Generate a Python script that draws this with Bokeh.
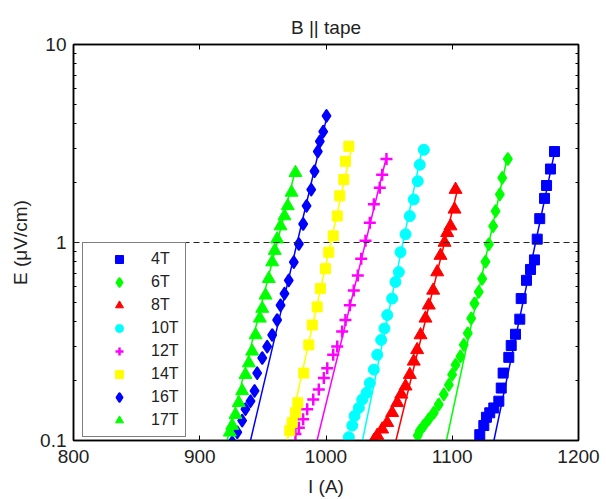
from bokeh.plotting import figure
from bokeh.models import (Range1d, FixedTicker, LinearAxis, LogAxis, Span, Legend,
                          LegendItem, CustomJSTickFormatter)
from bokeh.embed import file_html
from bokeh.resources import INLINE
import numpy as np

# ---------------- data ----------------
series_names = ["4T", "6T", "8T", "10T", "12T", "14T", "16T", "17T"]
series_colors = ["#0000FF", "#00FF00", "#FF0000", "#00FFFF", "#FF00FF", "#FFFF00", "#0000FF", "#00FF00"]
series_markers = ["square", "diamond", "triangle", "circle", "cross", "square", "diamond", "triangle"]

i_4t = [1181.0, 1177.8, 1174.7, 1173.1, 1169.3, 1167.3, 1165.1, 1162.0, 1158.8, 1154.6, 1153.5,
        1150.1, 1146.7, 1144.8, 1140.3, 1138.8, 1136.9, 1132.9, 1129.7, 1127.1, 1125.0, 1121.8]
e_4t = [2.88, 2.35, 1.94, 1.67, 1.32, 1.04, 0.817, 0.731, 0.644, 0.521, 0.410,
        0.344, 0.302, 0.263, 0.219, 0.184, 0.158, 0.146, 0.138, 0.131, 0.119, 0.107]

i_6t = [1144.0, 1139.6, 1137.7, 1134.3, 1132.4, 1129.0, 1126.3, 1123.7, 1121.0, 1117.6, 1115.0, 1112.3,
        1109.1, 1106.5, 1102.6, 1099.9, 1097.3, 1093.3, 1089.3, 1085.4, 1081.4, 1077.5, 1074.3, 1072.7]
e_6t = [2.64, 2.12, 1.75, 1.44, 1.21, 0.98, 0.80, 0.656, 0.563, 0.492, 0.414, 0.348,
        0.304, 0.266, 0.241, 0.215, 0.191, 0.171, 0.152, 0.138, 0.128, 0.119, 0.112, 0.106]

i_8t = [1102.6, 1101.8, 1098.6, 1096.0, 1093.9, 1090.7, 1088.1, 1084.9, 1081.4, 1078.8, 1074.9,
        1072.2, 1069.5, 1066.4, 1063.0, 1059.6, 1056.4, 1052.4, 1048.5, 1044.5, 1040.6, 1037.9]
e_8t = [1.85, 1.47, 1.21, 1.12, 1.00, 0.859, 0.709, 0.573, 0.482, 0.414, 0.341,
        0.287, 0.251, 0.215, 0.188, 0.171, 0.155, 0.138, 0.123, 0.114, 0.106, 0.100]

i_10t = [1077.5, 1074.3, 1072.7, 1069.5, 1066.4, 1063.0, 1059.0, 1057.7, 1055.0, 1052.4, 1048.5,
         1046.3, 1043.7, 1040.6, 1037.9, 1034.7, 1032.1, 1028.7, 1026.0, 1022.6, 1020.8, 1018.1]
e_10t = [2.94, 2.47, 2.04, 1.65, 1.36, 1.10, 0.893, 0.709, 0.632, 0.521, 0.430,
         0.368, 0.322, 0.271, 0.228, 0.195, 0.174, 0.161, 0.146, 0.133, 0.119, 0.104]

i_12t = [1047.9, 1044.5, 1042.6, 1037.9, 1034.7, 1031.3, 1027.9, 1025.2, 1022.0, 1018.9, 1015.4,
         1012.8, 1008.9, 1005.7, 1001.0, 998.3, 994.3, 989.9, 985.1, 981.9, 978.5, 975.8]
e_12t = [2.64, 2.20, 1.89, 1.56, 1.26, 1.02, 0.827, 0.682, 0.573, 0.482, 0.406,
         0.355, 0.298, 0.271, 0.232, 0.207, 0.181, 0.161, 0.144, 0.128, 0.116, 0.108]

i_14t = [1018.1, 1015.4, 1014.1, 1010.9, 1008.9, 1005.7, 1002.2, 999.6, 995.6, 993.0, 989.1,
         986.4, 982.4, 977.7, 975.8, 973.2, 971.3]
e_14t = [3.06, 2.57, 2.08, 1.72, 1.36, 1.08, 0.893, 0.737, 0.585, 0.473, 0.383,
         0.304, 0.219, 0.155, 0.138, 0.123, 0.112]

i_16t = [1000.4, 997.8, 995.1, 993.5, 990.9, 988.3, 984.6, 981.9, 978.5, 974.5, 970.5, 967.1,
         964.0, 961.3, 957.4, 953.4, 949.5, 945.5, 943.4, 940.2, 936.2, 933.6, 929.7, 925.7]
e_16t = [4.36, 3.63, 3.24, 2.88, 2.29, 1.85, 1.53, 1.24, 0.983, 0.796, 0.644, 0.552,
         0.482, 0.406, 0.341, 0.298, 0.261, 0.219, 0.178, 0.158, 0.144, 0.126, 0.110, 0.098]

i_17t = [975.8, 972.7, 969.7, 967.1, 964.0, 961.3, 959.4, 957.4, 954.7, 952.1, 949.5,
         947.6, 944.2, 941.5, 938.9, 936.2, 933.6, 930.9, 928.3, 925.7, 923.8]
e_17t = [2.25, 1.79, 1.53, 1.36, 1.21, 1.04, 0.910, 0.796, 0.656, 0.541, 0.464,
         0.414, 0.341, 0.282, 0.246, 0.215, 0.178, 0.155, 0.135, 0.119, 0.110]

# straight fit lines: current at E = 0.1 and at E = 1 uV/cm (criterion)
fit_i_at_01 = [1133.0, 1095.4, 1055.4, 1028.9, 992.9, 969.3, 940.2, 921.7]
fit_i_at_1 = [1166.0, 1129.1, 1093.9, 1061.0, 1031.3, 1003.8, 977.2, 961.3]

criterion_e = 1.0
x_ticks = [800, 900, 1000, 1100, 1200]
y_ticks = [0.1, 1, 10]

all_i = [i_4t, i_6t, i_8t, i_10t, i_12t, i_14t, i_16t, i_17t]
all_e = [e_4t, e_6t, e_8t, e_10t, e_12t, e_14t, e_16t, e_17t]

# ---------------- figure ----------------
FONT = "Liberation Sans"
p = figure(width=600, height=499, output_backend="svg", toolbar_location=None,
           x_range=Range1d(800, 1200), y_range=Range1d(0.1, 10), y_axis_type="log",
           min_border_left=73, min_border_right=22, min_border_top=44, min_border_bottom=56,
           title="B || tape")
p.title.align = "center"
p.title.text_font = FONT
p.title.text_font_size = "19px"
p.title.text_font_style = "normal"
p.title.text_color = "#222222"
p.title.vertical_align = "top"

p.xgrid.visible = False
p.ygrid.visible = False
p.outline_line_color = "black"
p.outline_line_width = 1.5
p.background_fill_color = "white"
p.border_fill_color = "white"

minor_y = [m * d for d in (0.1, 1) for m in range(2, 10)]

for ax in (p.xaxis[0], p.yaxis[0]):
    ax.axis_line_color = "black"
    ax.axis_line_width = 1.5
    ax.major_tick_in = 5
    ax.major_tick_out = 0
    ax.minor_tick_in = 3
    ax.minor_tick_out = 0
    ax.major_tick_line_color = "black"
    ax.minor_tick_line_color = "black"
    ax.major_label_text_font = FONT
    ax.major_label_text_font_size = "19px"
    ax.major_label_text_color = "#222222"
    ax.axis_label_text_font = FONT
    ax.axis_label_text_font_size = "19px"
    ax.axis_label_text_font_style = "normal"
    ax.axis_label_text_color = "#222222"

p.xaxis[0].ticker = FixedTicker(ticks=x_ticks)
p.xaxis[0].minor_tick_line_color = None
p.xaxis[0].major_label_standoff = 9
p.xaxis[0].axis_label = "I (A)"
p.xaxis[0].axis_label_standoff = 10

p.yaxis[0].ticker = FixedTicker(ticks=y_ticks, minor_ticks=minor_y)
p.yaxis[0].major_label_overrides = {0.1: "0.1", 1: "1", 10: "10"}
p.yaxis[0].major_label_standoff = 7
p.yaxis[0].axis_label = "E (\u03bcV/cm)"
p.yaxis[0].axis_label_standoff = 6

# box ticks on top and right (no labels)
blank = CustomJSTickFormatter(code="return ''")
top_ax = LinearAxis(ticker=FixedTicker(ticks=x_ticks), formatter=blank,
                    major_tick_in=5, major_tick_out=0, minor_tick_line_color=None,
                    axis_line_color="black", axis_line_width=1.5,
                    major_label_standoff=0)
right_ax = LogAxis(ticker=FixedTicker(ticks=y_ticks, minor_ticks=minor_y), formatter=blank,
                   major_tick_in=5, major_tick_out=0, minor_tick_in=3, minor_tick_out=0,
                   axis_line_color="black", axis_line_width=1.5, major_label_standoff=0)
p.add_layout(top_ax, "above")
p.add_layout(right_ax, "right")

# criterion line
p.add_layout(Span(location=criterion_e, dimension="width", line_color="#222222",
                  line_width=1.2, line_dash="6 4"))

marker_style = {
    "square":   dict(size=10, line_width=1.0),
    "diamond":  dict(size=11, line_width=2.5),
    "triangle": dict(size=13, line_width=1.0),
    "circle":   dict(size=11, line_width=1.0),
    "cross":    dict(size=12, line_width=2.5),
}
items = []
for name, col, mk, xi, ei, i01, i1 in zip(series_names, series_colors, series_markers,
                                         all_i, all_e, fit_i_at_01, fit_i_at_1):
    st = marker_style[mk]
    r = p.scatter(xi, ei, marker=mk, size=st["size"], fill_color=col, line_color=col,
                  line_width=st["line_width"], line_join="round")
    e_top = max(ei)
    i_top = i01 + (np.log10(e_top) + 1.0) * (i1 - i01)
    p.line([i01, i1, i_top], [0.1, 1.0, e_top], line_color=col, line_width=1.5)
    items.append(LegendItem(label=name, renderers=[r]))

legend = Legend(items=items, location=(9, 3), margin=0, padding=6,
                glyph_width=60, glyph_height=20, label_height=20, spacing=3,
                label_standoff=2, label_text_font=FONT, label_text_font_size="16px",
                label_text_color="#222222",
                border_line_color="black", border_line_width=1.5,
                background_fill_color="white", background_fill_alpha=1.0)
p.add_layout(legend, "center")

open("out.html", "w").write(file_html(p, INLINE))
